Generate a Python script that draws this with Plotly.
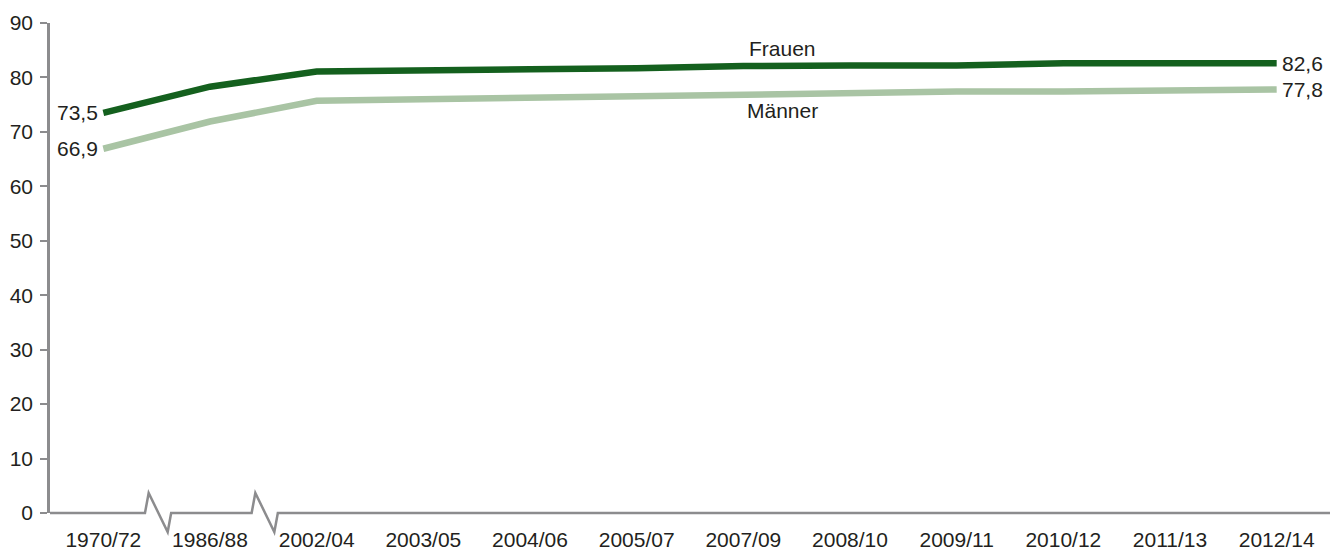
import plotly.graph_objects as go

periods = ["1970/72", "1986/88", "2002/04", "2003/05", "2004/06", "2005/07",
           "2007/09", "2008/10", "2009/11", "2010/12", "2011/13", "2012/14"]
frauen = [73.5, 78.3, 81.1, 81.4, 81.5, 81.7, 82.1, 82.2, 82.2, 82.6, 82.6, 82.6]
maenner = [66.9, 71.9, 75.7, 76.0, 76.3, 76.5, 76.8, 77.2, 77.4, 77.4, 77.5, 77.8]

dark = "#14601e"
light = "#a9c4a4"
grey = "#8c8c8e"
txt = "#231f20"
font = "Liberation Sans, Arial, sans-serif"
fs = 21

x_idx = list(range(len(periods)))

fig = go.Figure()
fig.add_trace(go.Scatter(x=x_idx, y=maenner, mode="lines", name="Männer",
                         line=dict(color=light, width=6.5)))
fig.add_trace(go.Scatter(x=x_idx, y=frauen, mode="lines", name="Frauen",
                         line=dict(color=dark, width=6.5)))

# value labels at start and end
def lab(x, y, text, side):
    fig.add_annotation(x=x, y=y, text=text, showarrow=False,
                       xanchor="right" if side == "l" else "left",
                       xshift=-3 if side == "l" else 3,
                       font=dict(size=fs, color=txt))

def fmt(v):
    return f"{v:.1f}".replace(".", ",")

lab(0, frauen[0], fmt(frauen[0]), "l")
lab(0, maenner[0], fmt(maenner[0]), "l")
lab(11, frauen[-1], fmt(frauen[-1]), "r")
lab(11, maenner[-1], fmt(maenner[-1]), "r")

fig.add_annotation(x=6.37, y=85.3, text="Frauen", showarrow=False,
                   font=dict(size=fs, color=txt))
fig.add_annotation(x=6.37, y=73.9, text="Männer", showarrow=False,
                   font=dict(size=fs, color=txt))

# x axis line with two break marks (between the first three categories)
n = len(periods)
plot_w = 1342 - 50 - 12
plot_h = 551 - 23 - 38
up = 20 / plot_h
down = -19 / plot_h
path = "M 0 0"
for k in (1, 2):
    c = k / n
    path += (f" L {c - 11.7 / plot_w} 0"
             f" L {c - 8 / plot_w} {up}"
             f" L {c + 11 / plot_w} {down}"
             f" L {c + 14.5 / plot_w} 0")
path += " L 1 0"
fig.add_shape(type="path", path=path, xref="paper", yref="paper",
              line=dict(color=grey, width=2.5), layer="above")

fig.update_layout(
    width=1342, height=551,
    margin=dict(l=50, r=12, t=23, b=38),
    paper_bgcolor="white", plot_bgcolor="white",
    showlegend=False,
    font=dict(family=font, size=fs, color=txt),
    xaxis=dict(range=[-0.5, n - 0.5], tickmode="array", tickvals=x_idx,
               ticktext=periods, showgrid=False, zeroline=False,
               showline=False, ticks="", ticklabelstandoff=12,
               automargin=False, tickfont=dict(size=fs, color=txt)),
    yaxis=dict(range=[0, 90], dtick=10, showgrid=False, zeroline=False,
               showline=True, linecolor=grey, linewidth=2.5,
               ticks="outside", ticklen=7, tickcolor=grey, tickwidth=1.5,
               ticklabelstandoff=3, automargin=False,
               tickfont=dict(size=fs, color=txt)),
)

fig.write_html("out.html", config={"displayModeBar": False},
               post_script="document.body.style.margin='0';"
                           "document.body.style.overflow='hidden';")
